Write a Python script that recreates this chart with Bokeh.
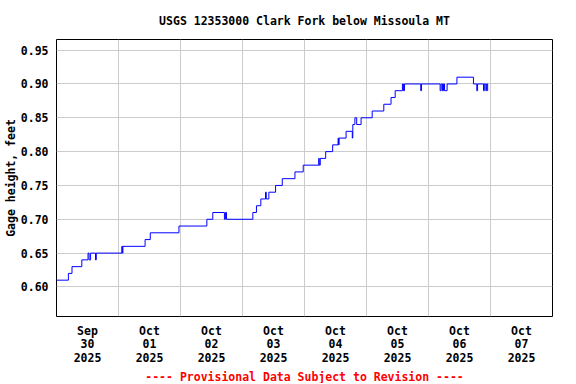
from bokeh.plotting import figure
from bokeh.models import Range1d, FixedTicker, NumeralTickFormatter, Title
from bokeh.embed import file_html
from bokeh.resources import INLINE

# ---- data (hours since 2025-09-30 00:00, gage height in feet; step changes) ----
hours = [0.0, 4.6, 6.0, 9.8, 12.2, 12.6, 13.2, 15.1, 15.4, 25.3, 25.5, 25.7,
         34.3, 36.3, 47.4, 58.2, 60.5, 65.0, 65.4, 65.8, 76.0, 77.4, 79.1,
         80.9, 81.2, 82.2, 84.8, 87.4, 92.3, 95.5, 101.5, 101.7, 102.1, 104.2,
         106.9, 109.0, 109.2, 109.4, 112.1, 114.5, 114.7, 115.5, 116.2, 117.9,
         122.2, 126.7, 129.5, 131.1, 133.9, 134.3, 134.7, 141.0, 141.3, 148.5,
         148.9, 149.4, 149.8, 150.2, 151.2, 155.0, 161.4, 162.7, 163.0, 165.3,
         165.6, 166.2, 166.5, 166.9, 167.0]
gage = [0.61, 0.62, 0.63, 0.64, 0.65, 0.64, 0.65, 0.64, 0.65, 0.66, 0.65, 0.66,
        0.67, 0.68, 0.69, 0.70, 0.71, 0.70, 0.71, 0.70, 0.71, 0.72, 0.73,
        0.74, 0.73, 0.74, 0.75, 0.76, 0.77, 0.78, 0.79, 0.78, 0.79, 0.80,
        0.81, 0.82, 0.81, 0.82, 0.83, 0.82, 0.84, 0.85, 0.84, 0.85,
        0.86, 0.87, 0.88, 0.89, 0.90, 0.89, 0.90, 0.89, 0.90, 0.89,
        0.90, 0.89, 0.90, 0.89, 0.90, 0.91, 0.90, 0.89, 0.90, 0.89,
        0.90, 0.89, 0.90, 0.89, 0.89]

day_labels = ["Sep\n30\n2025", "Oct\n01\n2025", "Oct\n02\n2025", "Oct\n03\n2025",
              "Oct\n04\n2025", "Oct\n05\n2025", "Oct\n06\n2025", "Oct\n07\n2025"]
y_ticks = [0.60, 0.65, 0.70, 0.75, 0.80, 0.85, 0.90, 0.95]

title_text = "USGS 12353000 Clark Fork below Missoula MT"
y_label = "Gage height, feet"
footnote = "---- Provisional Data Subject to Revision ----"

FONT = "DejaVu Sans Mono"
FS = "11.5px"

label_ticks = [24 * i + 12 for i in range(len(day_labels))]
grid_ticks = [24 * i for i in range(1, len(day_labels))]

p = figure(frame_width=496, frame_height=277,
           min_border_left=50, min_border_right=14,
           min_border_top=31, min_border_bottom=58,
           x_range=Range1d(0, 24 * len(day_labels)),
           y_range=Range1d(0.5563, 0.9657),
           output_backend="svg", toolbar_location=None,
           background_fill_color="white", border_fill_color="white")

p.title.text = title_text
p.title.align = "center"
p.title.text_font = FONT
p.title.text_font_size = FS
p.title.text_font_style = "bold"
p.title.text_color = "black"
p.title.standoff = 23

p.outline_line_color = "black"
p.outline_line_width = 1
p.outline_line_alpha = 1

p.step(hours, gage, mode="after", line_color="#0000ff", line_width=1)

# x axis
xa = p.xaxis[0]
xa.ticker = FixedTicker(ticks=label_ticks)
xa.major_label_overrides = {t: lab for t, lab in zip(label_ticks, day_labels)}
xa.axis_line_color = None
xa.major_tick_line_color = None
xa.minor_tick_line_color = None
xa.major_tick_out = 0
xa.major_tick_in = 0
xa.major_label_standoff = 7
xa.major_label_text_font = FONT
xa.major_label_text_font_size = FS
xa.major_label_text_font_style = "bold"
xa.major_label_text_color = "black"
xa.major_label_text_line_height = 0.97

# y axis
ya = p.yaxis[0]
ya.ticker = FixedTicker(ticks=y_ticks)
ya.formatter = NumeralTickFormatter(format="0.00")
ya.axis_line_color = None
ya.major_tick_line_color = None
ya.minor_tick_line_color = None
ya.major_tick_out = 0
ya.major_tick_in = 0
ya.major_label_standoff = 8
ya.major_label_text_font = FONT
ya.major_label_text_font_size = FS
ya.major_label_text_font_style = "bold"
ya.major_label_text_color = "black"
ya.axis_label = y_label
ya.axis_label_standoff = 0
ya.axis_label_text_font = FONT
ya.axis_label_text_font_size = FS
ya.axis_label_text_font_style = "bold"
ya.axis_label_text_color = "black"

# grids
p.xgrid[0].ticker = FixedTicker(ticks=grid_ticks)
p.xgrid[0].grid_line_color = "#cccccc"
p.xgrid[0].grid_line_width = 1
p.ygrid[0].grid_line_color = "#cccccc"
p.ygrid[0].grid_line_width = 1

p.add_layout(Title(text=footnote, align="center", text_font=FONT,
                   text_font_size=FS, text_font_style="bold",
                   text_color="red", standoff=0), "below")

open("out.html", "w").write(file_html(p, INLINE))
